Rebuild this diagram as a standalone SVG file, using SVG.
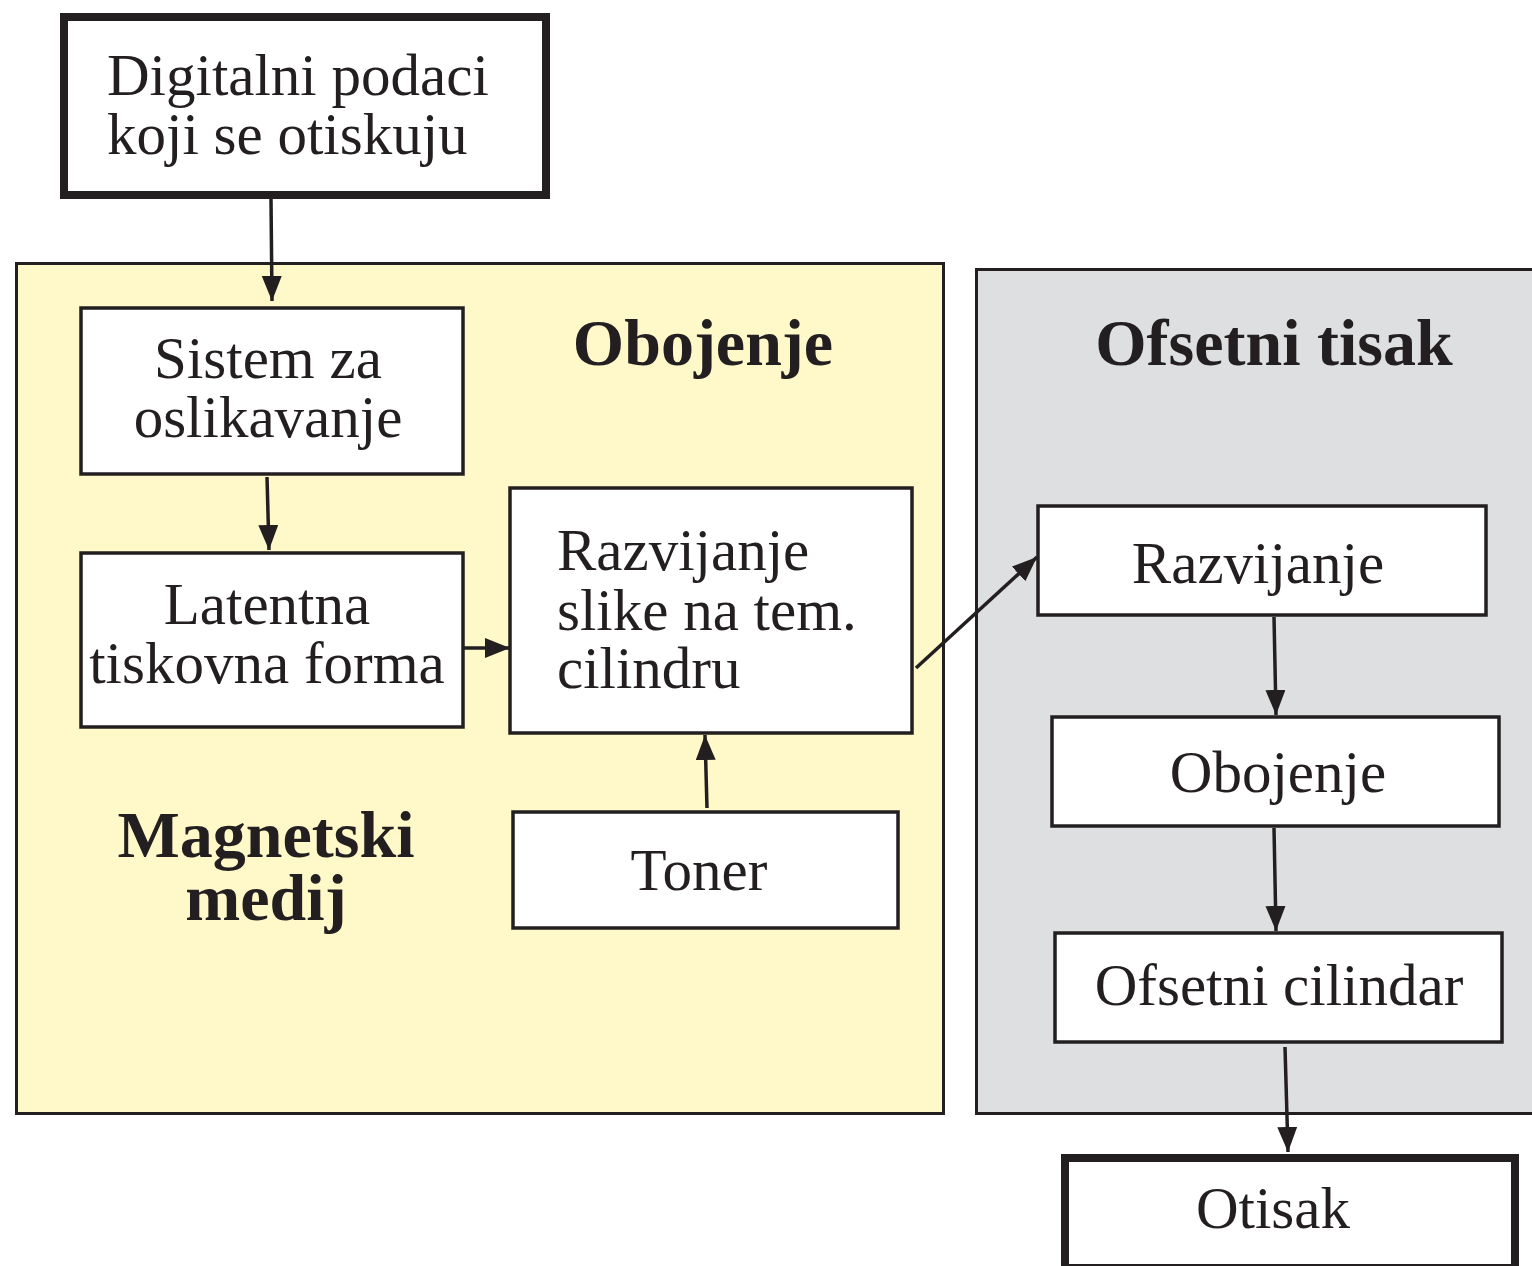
<svg xmlns="http://www.w3.org/2000/svg" width="1532" height="1266" viewBox="0 0 1532 1266">
<style>
.box{fill:#fff;stroke:#231f20;stroke-width:3.5}
.thick{fill:#fff;stroke:#231f20;stroke-width:8}
.t{font-family:"Liberation Serif","Times New Roman",serif;font-size:59px;fill:#231f20}
.b{font-family:"Liberation Serif","Times New Roman",serif;font-size:66px;font-weight:bold;fill:#231f20}
.c{text-anchor:middle}
.conn line{stroke:#231f20;stroke-width:3.5;marker-end:url(#ah)}
</style>
<defs>
<marker id="ah" markerUnits="userSpaceOnUse" markerWidth="26" markerHeight="22" refX="25" refY="10" orient="auto">
<path d="M0,0 L25,10 L0,20 z" fill="#231f20"/>
</marker>
</defs>
<rect width="1532" height="1266" fill="#fff"/>
<g id="magnetski-medij">
<rect x="16.5" y="263.5" width="927" height="850" fill="#fff8c8" stroke="#231f20" stroke-width="3"/>
<text class="b c" x="703" y="365">Obojenje</text>
<text class="b c" x="266" y="857">Magnetski</text>
<text class="b c" x="266" y="920">medij</text>
</g>
<g id="ofsetni-tisak">
<rect x="976.5" y="269.5" width="570" height="844" fill="#dedfe1" stroke="#231f20" stroke-width="3"/>
<text class="b c" x="1274" y="365">Ofsetni tisak</text>
</g>
<g id="digitalni">
<rect class="thick" x="64" y="17" width="482" height="178"/>
<text class="t" x="107" y="95">Digitalni podaci</text>
<text class="t" x="107" y="154">koji se otiskuju</text>
</g>
<g id="sistem">
<rect class="box" x="81" y="308" width="382" height="166"/>
<text class="t c" x="268" y="378">Sistem za</text>
<text class="t c" x="268" y="437">oslikavanje</text>
</g>
<g id="latentna">
<rect class="box" x="81" y="553" width="382" height="174"/>
<text class="t c" x="267" y="624">Latentna</text>
<text class="t c" x="267" y="683">tiskovna forma</text>
</g>
<g id="razvijanje-slike">
<rect class="box" x="510" y="488" width="402" height="245"/>
<text class="t" x="557" y="570">Razvijanje</text>
<text class="t" x="557" y="630">slike na tem.</text>
<text class="t" x="557" y="688">cilindru</text>
</g>
<g id="toner">
<rect class="box" x="513" y="812" width="385" height="116"/>
<text class="t c" x="699" y="890">Toner</text>
</g>
<g id="razvijanje">
<rect class="box" x="1038" y="506" width="448" height="109"/>
<text class="t c" x="1258" y="583">Razvijanje</text>
</g>
<g id="obojenje">
<rect class="box" x="1052" y="717" width="447" height="109"/>
<text class="t c" x="1278" y="792">Obojenje</text>
</g>
<g id="ofsetni-cilindar">
<rect class="box" x="1055" y="933" width="447" height="109"/>
<text class="t c" x="1279" y="1005">Ofsetni cilindar</text>
</g>
<g id="otisak">
<rect class="thick" x="1065" y="1158" width="450" height="110"/>
<text class="t c" x="1273" y="1228">Otisak</text>
</g>
<g class="conn" id="connectors">
<line x1="271" y1="199" x2="272" y2="301"/>
<line x1="267" y1="477" x2="269" y2="550"/>
<line x1="464" y1="648" x2="510" y2="648"/>
<line x1="707" y1="808" x2="705" y2="735"/>
<line x1="916" y1="668" x2="1037" y2="557"/>
<line x1="1274" y1="617" x2="1276" y2="715"/>
<line x1="1274" y1="828" x2="1276" y2="931"/>
<line x1="1285" y1="1047" x2="1288" y2="1152"/>
</g>
</svg>
